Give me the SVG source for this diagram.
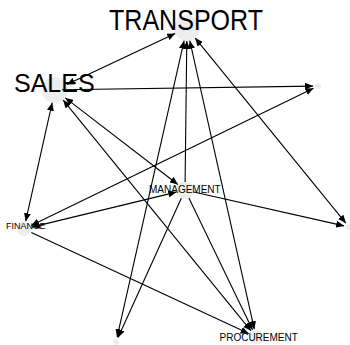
<svg xmlns="http://www.w3.org/2000/svg" width="350" height="345" viewBox="0 0 350 345">
<style>
.edge{stroke:#000;stroke-width:1.1;fill:none}
.node circle{fill:#e8e8e8;opacity:0.8}
.lbl{font-family:"Liberation Sans",Arial,sans-serif;fill:#000}
</style>
<defs>
<marker id="arr" viewBox="0 0 8 7" refX="8" refY="3.5" markerWidth="8" markerHeight="7" markerUnits="userSpaceOnUse" orient="auto-start-reverse">
<path d="M0,0 L8,3.5 L0,7 z" fill="#000"/>
</marker>
</defs>
<rect width="350" height="345" fill="#fff"/>
<g id="nodes-bg">
<g id="n-transport" class="node"><circle cx="187" cy="28" r="13"/></g>
<g id="n-sales" class="node"><circle cx="55" cy="90" r="13"/></g>
<g id="n-management" class="node"><circle cx="185" cy="190" r="9"/></g>
<g id="n-finance" class="node"><circle cx="24" cy="229" r="7"/></g>
<g id="n-procurement" class="node"><circle cx="256" cy="337" r="7"/></g>
<g id="n-a" class="node"><circle cx="318" cy="86" r="3"/></g>
<g id="n-b" class="node"><circle cx="349" cy="227" r="3"/></g>
<g id="n-c" class="node"><circle cx="116" cy="342" r="3"/></g>
</g>
<g id="connectors">
<line class="edge" x1="66.8" y1="84.5" x2="175.2" y2="33.5" marker-start="url(#arr)" marker-end="url(#arr)"/>
<line class="edge" x1="62" y1="89.8" x2="313" y2="86.1" marker-end="url(#arr)"/>
<line class="edge" x1="31.2" y1="225.5" x2="313.5" y2="88.2" marker-start="url(#arr)" marker-end="url(#arr)"/>
<line class="edge" x1="52.2" y1="102.7" x2="25.7" y2="221.2" marker-start="url(#arr)" marker-end="url(#arr)"/>
<line class="edge" x1="65.3" y1="97.9" x2="177.9" y2="184.5" marker-start="url(#arr)" marker-end="url(#arr)"/>
<line class="edge" x1="63.2" y1="100.1" x2="251" y2="330.8" marker-start="url(#arr)" marker-end="url(#arr)"/>
<line class="edge" x1="185.1" y1="182" x2="186.8" y2="41" marker-end="url(#arr)"/>
<line class="edge" x1="117.1" y1="337.1" x2="184.1" y2="40.7" marker-start="url(#arr)" marker-end="url(#arr)"/>
<line class="edge" x1="254.3" y1="329.2" x2="189.8" y2="40.7" marker-start="url(#arr)" marker-end="url(#arr)"/>
<line class="edge" x1="345.8" y1="223.1" x2="195.2" y2="38.1" marker-start="url(#arr)" marker-end="url(#arr)"/>
<line class="edge" x1="193.8" y1="192" x2="344.1" y2="225.9" marker-end="url(#arr)"/>
<line class="edge" x1="176.3" y1="192.1" x2="31.8" y2="227.1" marker-start="url(#arr)" marker-end="url(#arr)"/>
<line class="edge" x1="181.3" y1="198.2" x2="118.1" y2="337.4" marker-end="url(#arr)"/>
<line class="edge" x1="188.9" y1="198.1" x2="252.5" y2="329.8" marker-end="url(#arr)"/>
<line class="edge" x1="31.3" y1="232.4" x2="248.7" y2="333.6" marker-end="url(#arr)"/>
</g>
<g id="labels">
<text class="lbl" x="109" y="30" font-size="29" textLength="154" lengthAdjust="spacingAndGlyphs">TRANSPORT</text>
<text class="lbl" x="14" y="92" font-size="25">SALES</text>
<text class="lbl" x="149" y="192.5" font-size="10">MANAGEMENT</text>
<text class="lbl" x="6" y="229" font-size="9">FINANCE</text>
<text class="lbl" x="219.5" y="341" font-size="10">PROCUREMENT</text>
</g>
</svg>
